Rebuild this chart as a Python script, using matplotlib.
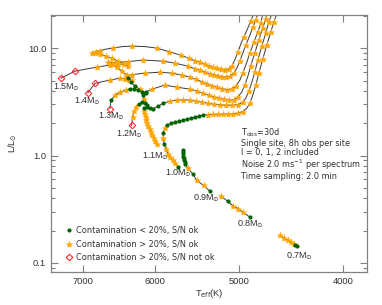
import matplotlib
matplotlib.use('Agg')
import matplotlib.pyplot as plt
from matplotlib.ticker import FixedLocator, NullLocator, FixedFormatter, LogLocator, NullFormatter

plt.rcParams['font.family'] = ['Liberation Sans', 'DejaVu Sans']
plt.rcParams['mathtext.fontset'] = 'dejavusans'

# evolutionary tracks: Teff (K), L/Lsun and marker code per point
# d = S/N not ok (red diamond), s = contamination > 20% (orange star),
# g = contamination < 20% (green dot), - = no marker
t_15 = [7341, 7125, 6958, 6795, 6607, 6494, 6411, 6357, 6411, 6494, 6579, 6665, 6751, 6824,
        6868, 6809, 6751, 6665, 6564, 6438, 6302, 6128, 5972, 5821, 5673, 5576, 5505, 5445,
        5387, 5341, 5295, 5250, 5205, 5160, 5116, 5083, 5051, 5017, 4986, 4954, 4910, 4881, 4850]
l_15 = [5.28, 6.13, 6.41, 6.69, 6.98, 7.13, 7.13, 6.90, 7.29, 7.61, 8.10, 8.47, 8.85, 9.04,
        9.14, 9.33, 9.54, 9.85, 10.07, 10.4, 10.5, 10.4, 10.07, 9.33, 8.65, 8.10, 7.69, 7.45,
        7.13, 6.90, 6.69, 6.54, 6.41, 6.34, 6.47, 6.83, 7.78, 9.24, 10.97, 12.75, 15.5, 18.0, 21]
m_15 = "dd-sssss" + "sssssss" + "ss-s-s-" + "ssssssssssssss" + "-s-s-s-"

t_14 = [6927, 6824, 6722, 6607, 6466, 6398, 6343, 6302, 6370, 6439, 6508, 6579, 6636, 6536,
        6357, 6155, 5896, 5746, 5588, 5505, 5445, 5387, 5329, 5283, 5238, 5193, 5148, 5104,
        5061, 5028, 4996, 4964, 4932, 4889, 4858, 4827, 4806]
l_14 = [3.85, 4.71, 4.89, 5.05, 5.28, 5.22, 5.10, 5.05, 5.63, 6.13, 6.69, 7.13, 7.45, 7.37,
        7.53, 7.78, 7.61, 7.29, 6.83, 6.47, 6.27, 6.00, 5.82, 5.69, 5.57, 5.45, 5.39, 5.51,
        5.88, 6.54, 7.61, 9.04, 10.73, 13.31, 15.8, 18.4, 21]
m_14 = "dd-" + "s" * 26 + "-s-s-ss-"

t_13 = [6607, 6593, 6536, 6466, 6384, 6329, 6275, 6222, 6168, 6115, 6194, 6262, 6315, 6357,
        6384, 6302, 6128, 5933, 5783, 5660, 5562, 5493, 5422, 5364, 5306, 5250, 5193, 5137,
        5083, 5039, 4996, 4964, 4921, 4889, 4848, 4806, 4775, 4755]
l_13 = [2.75, 3.29, 3.66, 3.91, 4.08, 4.22, 4.17, 4.08, 3.95, 3.82, 4.17, 4.44, 4.84, 5.28,
        5.57, 5.69, 5.88, 6.00, 5.88, 5.63, 5.39, 5.16, 4.89, 4.69, 4.49, 4.35, 4.22, 4.13,
        4.17, 4.44, 5.05, 5.88, 7.45, 9.04, 11.45, 14.2, 17.2, 21]
m_13 = "dgsssgggggsggg" + "s" * 16 + "-s-ssss-"

t_12 = [6306, 6293, 6275, 6249, 6208, 6168, 6128, 6102, 6141, 6155, 6115, 6036, 5871, 5722,
        5562, 5481, 5411, 5341, 5283, 5227, 5171, 5115, 5061, 5017, 4975, 4943, 4910, 4881,
        4838, 4796, 4755, 4725, 4715]
l_12 = [1.92, 2.28, 2.60, 2.83, 3.01, 3.15, 3.08, 2.95, 3.36, 3.66, 3.91, 4.17, 4.54, 4.35,
        4.17, 4.00, 3.82, 3.66, 3.54, 3.43, 3.36, 3.29, 3.32, 3.51, 3.91, 4.54, 5.51, 6.83,
        9.04, 11.96, 15.5, 18.8, 21]
m_12 = "dsssggggsgg" + "s" * 13 + "-s-sssss-"

t_11 = [5972, 5991, 6010, 6030, 6049, 6062, 6082, 6095, 6108, 6119, 6128, 6135, 6135, 6102,
        6062, 6019, 5959, 5892, 5807, 5722, 5648, 5562, 5493, 5422, 5352, 5283, 5215, 5148,
        5082, 5017, 4964, 4932, 4900, 4868, 4838, 4806, 4765, 4725, 4694, 4664]
l_11 = [1.28, 1.36, 1.45, 1.55, 1.65, 1.76, 1.88, 2.00, 2.14, 2.28, 2.44, 2.60, 2.77, 2.86,
        2.80, 2.75, 2.89, 3.07, 3.22, 3.29, 3.32, 3.29, 3.22, 3.15, 3.08, 3.01, 2.98, 2.95,
        2.95, 2.98, 3.15, 3.43, 4.00, 4.84, 6.00, 7.78, 10.5, 13.9, 17.6, 21]
m_11 = "s" * 12 + "g" * 6 + "s" * 13 + "-s-sssss-"

t_10 = [5704, 5740, 5774, 5801, 5829, 5858, 5877, 5890, 5890, 5871, 5846, 5795, 5746, 5696,
        5648, 5600, 5550, 5505, 5457, 5411, 5352, 5295, 5238, 5182, 5126, 5072, 5017, 4964,
        4921, 4889, 4858, 4827, 4796, 4755, 4715, 4674, 4644, 4614]
l_10 = [0.782, 0.848, 0.904, 0.967, 1.03, 1.144, 1.28, 1.45, 1.62, 1.80, 1.92, 2.00, 2.05,
        2.09, 2.14, 2.19, 2.23, 2.28, 2.33, 2.38, 2.41, 2.42, 2.43, 2.43, 2.44, 2.45, 2.49,
        2.57, 2.77, 3.08, 3.66, 4.54, 5.88, 7.95, 10.73, 14.2, 17.6, 21]
m_10 = "gsssssgsgs" + "g" * 10 + "s" * 8 + "-s-ssssss-"

t_09 = [5329, 5402, 5481, 5531, 5588, 5618, 5627, 5633, 5637, 5640, 5642, 5645, 5646]
l_09 = [0.467, 0.527, 0.587, 0.679, 0.761, 0.829, 0.865, 0.904, 0.941, 0.98, 1.03, 1.07, 1.12]
m_09 = "gssgsgggggggg"

t_08 = [4889, 4964, 5012, 5066, 5126, 5204]
l_08 = [0.267, 0.297, 0.320, 0.338, 0.373, 0.421]
m_08 = "gsssgs"

t_07 = [4420, 4435, 4450, 4478, 4506, 4545, 4584]
l_07 = [0.142, 0.145, 0.151, 0.156, 0.163, 0.171, 0.180]
m_07 = "ggsssss"

tracks = [(t_15, l_15, m_15), (t_14, l_14, m_14), (t_13, l_13, m_13), (t_12, l_12, m_12),
          (t_11, l_11, m_11), (t_10, l_10, m_10), (t_09, l_09, m_09), (t_08, l_08, m_08),
          (t_07, l_07, m_07)]

# mass labels
mass_names = ['1.5', '1.4', '1.3', '1.2', '1.1', '1.0', '0.9', '0.8', '0.7']
mass_t = [7261, 6935, 6585, 6343, 5997, 5703, 5370, 4886, 4397]
mass_l = [4.35, 3.22, 2.33, 1.58, 0.985, 0.683, 0.399, 0.228, 0.1146]

info_lines = ['T$_{\\rm obs}$=30d', 'Single site, 8h obs per site', 'l = 0, 1, 2 included',
              'Noise 2.0 ms$^{-1}$ per spectrum', 'Time sampling: 2.0 min']

c_line = '#3a3a3a'
c_star = '#ffa500'
c_green = '#006400'
c_red = '#ff2a2a'
c_text = '#303030'
c_axis = '#808080'

fig = plt.figure(figsize=(3.82, 3.05), dpi=100)
ax = fig.add_axes([0.1335, 0.1082, 0.8272, 0.8426])

for t, l, m in tracks:
    ax.plot(t, l, color=c_line, lw=0.7, zorder=2)
    for code, kw in [('s', dict(marker='*', ms=6.0, color=c_star, mec='none', zorder=3)),
                     ('g', dict(marker='o', ms=3.0, color=c_green, mec='none', zorder=4)),
                     ('d', dict(marker='D', ms=3.3, mfc='none', mec=c_red, mew=0.8, zorder=4))]:
        ts = [t[i] for i in range(len(m)) if m[i] == code]
        ls = [l[i] for i in range(len(m)) if m[i] == code]
        if ts:
            ax.plot(ts, ls, ls='none', **kw)

for name, t, l in zip(mass_names, mass_t, mass_l):
    ax.text(t, l, name + 'M$_{\\!\\!\\odot}$', fontsize=6.5, color=c_text, ha='center', va='center')

# observation setup, one text block
ax.text(0.60, 0.567, '\n'.join(info_lines), transform=ax.transAxes, fontsize=5.9,
        color=c_text, va='top', ha='left', linespacing=1.03, family='DejaVu Sans')

# legend
h1, = ax.plot([], [], ls='none', marker='o', ms=3.0, color=c_green, mec='none')
h2, = ax.plot([], [], ls='none', marker='*', ms=6.0, color=c_star, mec='none')
h3, = ax.plot([], [], ls='none', marker='D', ms=3.3, mfc='none', mec=c_red, mew=0.8)
leg = ax.legend([h1, h2, h3], ['Contamination < 20%, S/N ok', 'Contamination > 20%, S/N ok',
                               'Contamination > 20%, S/N not ok'],
                loc='lower left', bbox_to_anchor=(0.03, 0.016), frameon=False,
                prop={'family': 'DejaVu Sans', 'size': 5.9},
                handlelength=0.8, handletextpad=0.45, labelspacing=0.55, borderpad=0.2)
for txt in leg.get_texts():
    txt.set_color(c_text)

ax.set_xscale('log')
ax.set_yscale('log')
ax.set_xlim(7500, 3800)
ax.set_ylim(0.082, 20.5)

ax.xaxis.set_major_locator(FixedLocator([7000, 6000, 5000, 4000]))
ax.xaxis.set_major_formatter(FixedFormatter(['7000', '6000', '5000', '4000']))
ax.xaxis.set_minor_locator(NullLocator())
ax.yaxis.set_major_locator(FixedLocator([0.1, 1.0, 10.0]))
ax.yaxis.set_major_formatter(FixedFormatter(['0.1', '1.0', '10.0']))
ax.yaxis.set_minor_locator(LogLocator(base=10, subs=range(2, 10)))
ax.yaxis.set_minor_formatter(NullFormatter())

ax.tick_params(which='both', direction='in', top=True, right=True, colors=c_axis,
               labelcolor=c_text, labelsize=6.7, width=0.8)
ax.tick_params(which='major', length=5)
ax.tick_params(which='minor', length=2.8)
for sp in ax.spines.values():
    sp.set_color(c_axis)
    sp.set_linewidth(0.9)

ax.set_xlabel('T$_{\\rm eff}$(K)', fontsize=6.7, color=c_text, labelpad=1)
ax.set_ylabel('L/L$_{\\!\\!\\odot}$', fontsize=6.7, color=c_text, labelpad=6)

fig.savefig('out.png', dpi=100)
